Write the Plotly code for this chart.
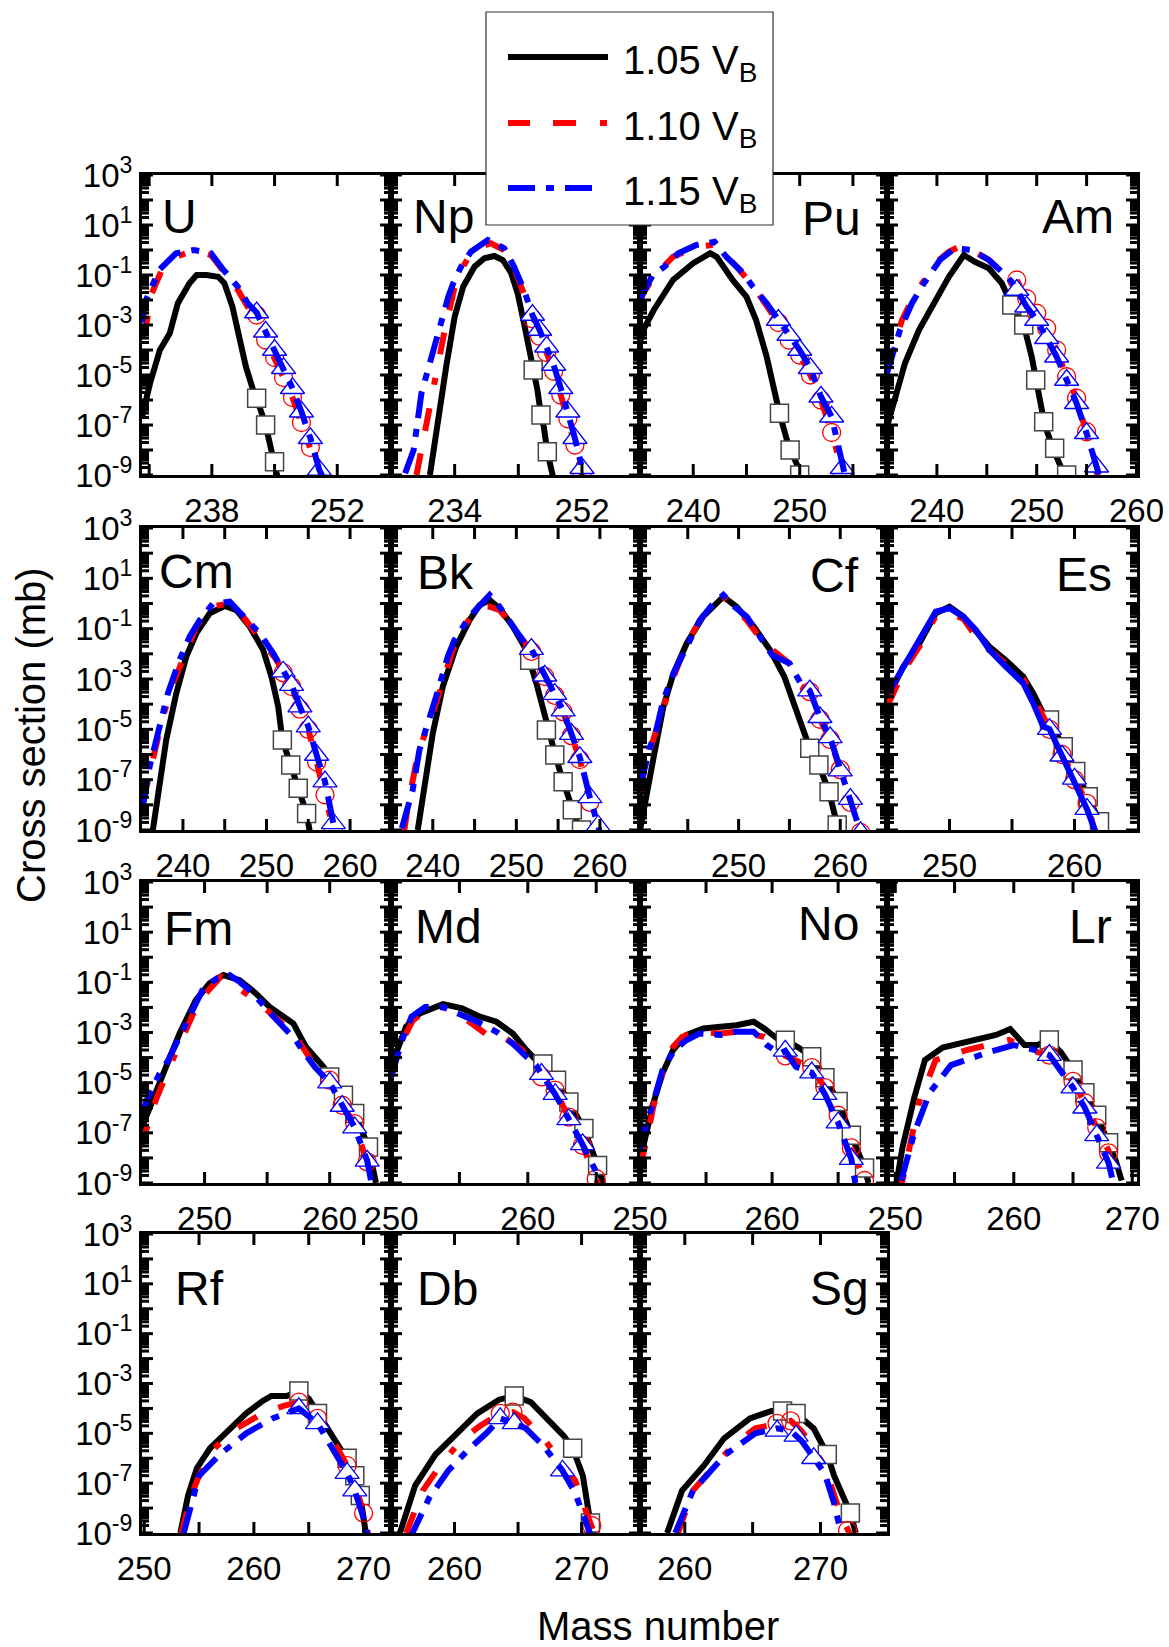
import math
import plotly.graph_objects as go

# Cross sections are stored as log10(sigma / mb); masses are mass numbers.
# Suffixes: 105 -> 1.05 V_B (black), 110 -> 1.10 V_B (red), 115 -> 1.15 V_B (blue)
# sq / ci / tr -> square / circle / triangle symbols of the same three series.

# ---------------- U ----------------
U_x105 = [230.2, 231.1, 232.2, 233.3, 234.2, 235.5, 236.3, 237.4, 238.7, 239.4, 240.3, 241.1, 241.8, 242.6, 243.0, 244.0, 245.0, 245.4]
U_y105 = [-6.67, -5.33, -4.0, -3.33, -2.13, -1.33, -1.0, -1.0, -1.07, -1.33, -2.27, -3.47, -4.67, -5.6, -5.93, -7.0, -8.47, -9.2]
U_x110 = [230.2, 230.7, 231.3, 232.4, 234.1, 236.0, 237.9, 239.8, 240.9, 242.0, 243, 244, 245, 246, 247, 248, 249, 250, 250.5]
U_y110 = [-3.47, -2.93, -1.73, -0.8, -0.27, 0.0, -0.2, -1.07, -1.6, -2.27, -2.6, -3.6, -4.3, -5.1, -5.9, -6.9, -7.9, -9.0, -9.5]
U_x115 = [230.2, 230.5, 232.1, 234.0, 236.0, 237.9, 239.3, 240.9, 242.0, 243, 244, 245, 246, 247, 248, 249, 250, 250.4]
U_y115 = [-2.9, -2.13, -0.8, -0.13, 0.0, -0.13, -0.8, -1.47, -2.13, -2.5, -3.27, -4.0, -4.73, -5.53, -6.47, -7.53, -8.8, -9.1]
U_sqx = [243, 244, 245]
U_sqy = [-5.93, -7.0, -8.47]
U_cix = [243, 244, 245, 246, 247, 248, 249, 250]
U_ciy = [-2.6, -3.6, -4.3, -5.1, -5.9, -6.9, -7.9, -9.0]
U_trx = [243, 244, 245, 246, 247, 248, 249, 250]
U_try = [-2.5, -3.27, -4.0, -4.73, -5.53, -6.47, -7.53, -8.8]

# ---------------- Np ----------------
Np_x105 = [230.5, 231.7, 232.8, 234.0, 235.2, 236.8, 238.2, 239.6, 240.8, 242.0, 242.9, 243.8, 244.8, 245.1, 245.7, 246.2, 246.6, 247.1, 247.6, 247.9]
Np_y105 = [-9.0, -6.67, -4.67, -2.67, -1.47, -0.67, -0.33, -0.24, -0.4, -0.93, -1.73, -2.93, -4.27, -4.8, -5.6, -6.6, -7.07, -8.07, -8.67, -9.07]
Np_x110 = [228.6, 229.0, 230.3, 231.2, 232.6, 234.0, 234.9, 236.3, 237.7, 239.1, 241.0, 242.4, 243.6, 244.8, 245, 246, 247, 248, 249, 250, 251, 252, 252.5]
Np_y110 = [-9.0, -8.4, -6.4, -5.07, -3.2, -1.47, -0.8, -0.13, 0.13, 0.27, 0.0, -0.73, -1.6, -2.53, -2.75, -3.45, -4.1, -4.85, -5.8, -6.75, -7.8, -9.0, -9.5]
Np_x115 = [227.0, 228.2, 229.3, 230.7, 231.7, 233.1, 233.8, 234.9, 236.3, 238.7, 241.0, 242.4, 243.8, 245, 246, 247, 248, 249, 250, 251, 252, 252.3]
Np_y115 = [-8.93, -8.0, -5.73, -4.27, -3.2, -1.87, -1.33, -0.67, -0.07, 0.4, 0.07, -0.67, -1.6, -2.6, -3.2, -3.87, -4.6, -5.53, -6.47, -7.53, -8.73, -9.1]
Np_sqx = [245.1, 246.2, 247.1]
Np_sqy = [-4.8, -6.6, -8.07]
Np_cix = [245, 246, 247, 248, 249, 250, 251, 252]
Np_ciy = [-2.75, -3.45, -4.1, -4.85, -5.8, -6.75, -7.8, -9.0]
Np_trx = [245, 246, 247, 248, 249, 250, 251, 252]
Np_try = [-2.6, -3.2, -3.87, -4.6, -5.53, -6.47, -7.53, -8.73]

# ---------------- Pu ----------------
Pu_x105 = [234.8, 235.3, 236.3, 238.1, 240.0, 241.6, 242.2, 243.7, 245.0, 245.9, 246.9, 247.8, 248.1, 248.8, 249.1, 249.7, 250.0, 250.2]
Pu_y105 = [-4.0, -3.2, -2.4, -1.2, -0.53, -0.13, -0.27, -1.2, -1.87, -2.8, -4.27, -6.13, -6.53, -7.6, -8.0, -8.53, -9.0, -9.3]
Pu_x110 = [235.0, 235.3, 236.3, 238.1, 240.3, 241.9, 242.5, 244.1, 245.9, 247.2, 248, 249, 250, 251, 252, 253, 254, 254.5]
Pu_y110 = [-2.1, -1.73, -1.07, -0.27, 0.13, 0.2, 0.0, -0.67, -1.6, -2.4, -2.9, -3.6, -4.2, -5.0, -6.0, -7.3, -9.0, -9.6]
Pu_x115 = [235.0, 235.1, 236.2, 237.3, 238.6, 240.3, 242.0, 243.1, 244.7, 245.6, 246.9, 247.8, 248, 249, 250, 251, 252, 253, 253.6, 254, 254.3]
Pu_y115 = [-2.0, -1.87, -1.0, -0.67, -0.13, 0.2, 0.33, -0.27, -0.93, -1.47, -2.13, -2.67, -2.8, -3.4, -4.0, -4.73, -5.87, -6.67, -7.8, -8.73, -9.1]
Pu_sqx = [248.1, 249.1, 250.0]
Pu_sqy = [-6.53, -8.0, -9.0]
Pu_cix = [248, 249, 250, 251, 252, 253, 254]
Pu_ciy = [-2.9, -3.6, -4.2, -5.0, -6.0, -7.3, -9.0]
Pu_trx = [248, 249, 250, 251, 252, 253, 254]
Pu_try = [-2.8, -3.4, -4.0, -4.73, -5.87, -6.67, -8.73]

# ---------------- Am ----------------
Am_x105 = [235.0, 235.8, 236.8, 238.2, 239.8, 241.2, 242.7, 243.8, 245.2, 246.5, 247.5, 248.7, 249.5, 250.2, 250.8, 251.8, 252.7, 253.2]
Am_y105 = [-7.07, -5.87, -4.53, -3.2, -2.0, -1.07, -0.2, -0.47, -0.73, -1.33, -2.2, -3.0, -4.27, -5.73, -7.0, -8.1, -9.0, -9.4]
Am_x110 = [235.0, 235.5, 236.5, 237.5, 238.5, 239.8, 241.2, 242.2, 243.5, 245.2, 246.5, 248, 249, 250, 251, 252, 253, 254, 255, 255.6, 256.2]
Am_y110 = [-4.8, -4.13, -2.8, -2.0, -1.33, -0.53, -0.07, 0.13, 0.0, -0.4, -0.87, -1.2, -1.95, -2.53, -3.13, -4.0, -5.07, -5.93, -7.27, -8.2, -9.2]
Am_x115 = [235.0, 236.3, 237.5, 238.7, 240.3, 241.8, 243.5, 245.2, 246.5, 247.5, 248, 249, 250, 251, 252, 253, 254, 255, 256, 256.4]
Am_y115 = [-4.93, -3.2, -2.13, -1.33, -0.4, 0.07, 0.0, -0.4, -0.87, -1.27, -1.6, -2.27, -2.8, -3.53, -4.27, -5.2, -6.13, -7.33, -8.67, -9.2]
Am_sqx = [247.5, 248.7, 249.9, 250.7, 251.8, 253.0]
Am_sqy = [-2.2, -3.0, -5.2, -6.87, -7.93, -9.0]
Am_cix = [248, 249, 250, 251, 252, 253, 254, 255]
Am_ciy = [-1.2, -1.95, -2.53, -3.13, -4.0, -5.07, -5.93, -7.27]
Am_trx = [248, 249, 250, 251, 252, 253, 254, 255, 256]
Am_try = [-1.6, -2.27, -2.8, -3.53, -4.27, -5.2, -6.13, -7.33, -8.67]

# ---------------- Cm ----------------
Cm_x105 = [236.4, 237.2, 238.0, 239.2, 240.4, 241.6, 243.2, 245.0, 246.4, 248.0, 249.6, 250.6, 251.4, 251.9, 252.9, 253.8, 254.8, 255.2]
Cm_y105 = [-9.0, -7.15, -5.42, -3.57, -2.11, -1.19, -0.39, -0.1, -0.26, -0.92, -1.85, -2.91, -4.1, -5.42, -6.42, -7.34, -8.34, -9.1]
Cm_x110 = [235.2, 236.4, 237.6, 238.8, 240.0, 241.6, 243.2, 245.6, 247.2, 248.8, 250.4, 251.2, 252, 253, 254, 255, 256, 257, 258, 258.4]
Cm_y110 = [-7.9, -6.1, -4.5, -3.2, -2.24, -0.92, -0.13, 0.0, -0.52, -1.19, -1.85, -2.24, -2.75, -3.3, -4.2, -5.0, -6.3, -7.6, -9.0, -9.5]
Cm_x115 = [235.2, 236.0, 237.2, 238.2, 239.6, 240.8, 242.0, 243.6, 245.6, 247.6, 249.2, 250.8, 252, 253, 254, 255, 256, 257, 258, 258.3]
Cm_y115 = [-8.07, -6.5, -4.9, -3.57, -2.24, -1.32, -0.66, 0.0, 0.07, -0.59, -1.19, -1.98, -2.71, -3.24, -4.1, -4.89, -6.02, -7.08, -8.74, -9.2]
Cm_sqx = [251.9, 252.9, 253.8, 254.8]
Cm_sqy = [-5.42, -6.42, -7.34, -8.34]
Cm_cix = [252, 253, 254, 255, 256, 257, 258]
Cm_ciy = [-2.75, -3.3, -4.2, -5.0, -6.3, -7.6, -9.0]
Cm_trx = [252, 253, 254, 255, 256, 257, 258]
Cm_try = [-2.71, -3.24, -4.1, -4.89, -6.02, -7.08, -8.74]

# ---------------- Bk ----------------
Bk_x105 = [238.2, 239.0, 240.0, 241.2, 242.8, 244.4, 245.6, 246.8, 248.0, 249.6, 251.2, 252.4, 253.4, 254.4, 255.4, 256.4, 257.6, 258.0]
Bk_y105 = [-9.0, -7.15, -5.16, -3.3, -1.72, -0.66, -0.06, 0.14, -0.19, -0.92, -1.85, -3.17, -4.5, -5.69, -6.88, -7.81, -9.0, -9.4]
Bk_x110 = [236.6, 237.0, 238.0, 238.8, 240.0, 241.2, 242.4, 244.0, 245.6, 246.8, 248.0, 249.6, 251.2, 251.8, 253.4, 254.6, 255.6, 256.6, 257.6, 258.8, 259.8, 260.2]
Bk_y110 = [-9.0, -8.07, -6.35, -5.42, -4.36, -3.04, -1.85, -0.79, -0.13, -0.13, -0.26, -0.92, -1.58, -1.9, -2.9, -3.65, -4.3, -5.25, -6.2, -7.9, -8.9, -9.4]
Bk_x115 = [236.3, 237.0, 237.6, 238.4, 240.0, 240.4, 241.8, 242.6, 244.4, 245.6, 246.8, 248.0, 249.6, 251.0, 251.8, 253.4, 254.6, 255.6, 256.6, 257.6, 258.8, 259.8, 260.1]
Bk_y115 = [-8.93, -8.2, -7.4, -5.82, -4.23, -3.7, -2.11, -1.45, -0.52, -0.06, 0.34, -0.13, -0.92, -1.58, -1.81, -2.87, -3.6, -4.26, -5.19, -6.11, -7.7, -8.83, -9.2]
Bk_sqx = [251.6, 253.6, 254.6, 255.6, 256.7, 257.8]
Bk_sqy = [-2.25, -5.03, -6.02, -7.08, -8.2, -9.0]
Bk_cix = [251.8, 253.4, 254.6, 255.6, 256.6, 257.6, 258.8]
Bk_ciy = [-1.9, -2.9, -3.65, -4.3, -5.25, -6.2, -7.9]
Bk_trx = [251.8, 253.4, 254.6, 255.6, 256.6, 257.6, 258.8, 259.8]
Bk_try = [-1.81, -2.87, -3.6, -4.26, -5.19, -6.11, -7.7, -8.83]

# ---------------- Cf ----------------
Cf_x105 = [240.3, 240.8, 241.6, 242.6, 243.6, 244.9, 246.5, 248.5, 249.8, 251.5, 253.1, 254.5, 255.4, 256.4, 257.0, 257.9, 258.9, 259.7, 260.0]
Cf_y105 = [-9.0, -7.8, -6.2, -4.1, -2.77, -1.58, -0.52, 0.27, -0.13, -0.92, -1.85, -2.91, -3.97, -5.16, -5.75, -6.42, -7.48, -8.8, -9.3]
Cf_x110 = [240.3, 240.9, 241.6, 242.6, 243.6, 244.9, 246.2, 247.5, 248.5, 249.5, 250.8, 252.5, 255.0, 256.1, 257, 258, 259, 260, 261, 262, 262.3]
Cf_y110 = [-7.54, -6.22, -5.42, -4.23, -2.91, -1.58, -0.66, 0.0, 0.27, -0.13, -0.66, -1.58, -2.38, -3.3, -3.5, -4.6, -5.4, -6.6, -7.9, -9.1, -9.5]
Cf_x115 = [240.3, 240.8, 241.3, 241.9, 242.6, 243.6, 244.9, 246.2, 247.5, 248.5, 249.6, 250.8, 252.1, 253.3, 255.0, 256.1, 257, 258, 259, 260, 261, 262]
Cf_y115 = [-7.28, -6.48, -5.69, -5.03, -3.83, -2.77, -1.72, -0.66, 0.0, 0.34, -0.13, -0.52, -1.32, -2.05, -2.38, -3.17, -3.46, -4.52, -5.32, -6.64, -7.77, -9.09]
Cf_sqx = [257.0, 257.9, 258.9, 259.7]
Cf_sqy = [-5.75, -6.42, -7.48, -8.8]
Cf_cix = [257, 258, 259, 260, 261, 262]
Cf_ciy = [-3.5, -4.6, -5.4, -6.6, -7.9, -9.1]
Cf_trx = [257, 258, 259, 260, 261, 262]
Cf_try = [-3.46, -4.52, -5.32, -6.64, -7.77, -9.09]

# ---------------- Es ----------------
Es_x105 = [245.1, 245.5, 246.3, 247.6, 248.9, 250.0, 251.1, 252.1, 253.2, 254.5, 255.9, 256.7, 257.5, 258, 259.1, 260.1, 261.1, 262, 262.2]
Es_y105 = [-3.83, -3.3, -2.51, -1.58, -0.39, -0.13, -0.52, -1.05, -1.72, -2.25, -2.91, -3.57, -4.36, -4.63, -5.69, -6.68, -7.68, -8.67, -9.1]
Es_x110 = [245.1, 246.3, 247.6, 248.9, 250.0, 251.1, 252.7, 253.2, 254.5, 255.9, 256.7, 257.5, 258, 259, 260, 261, 261.6]
Es_y110 = [-4.0, -2.7, -1.7, -0.5, -0.39, -0.6, -1.72, -1.85, -2.4, -3.0, -3.7, -4.5, -5.0, -6.0, -7.0, -7.94, -9.0]
Es_x115 = [245.1, 246.3, 247.6, 248.9, 250.0, 251.1, 252.1, 253.2, 254.5, 255.9, 256.7, 257.5, 258, 259, 260, 261, 261.7]
Es_y115 = [-3.57, -2.51, -1.45, -0.32, -0.19, -0.52, -1.05, -1.85, -2.51, -3.17, -3.97, -4.89, -4.99, -6.05, -6.97, -8.17, -9.1]
Es_sqx = [258, 259.1, 260.1, 261.1, 262]
Es_sqy = [-4.63, -5.69, -6.68, -7.68, -8.67]
Es_cix = [258, 259, 260, 261]
Es_ciy = [-5.0, -6.0, -7.0, -7.94]
Es_trx = [258, 259, 260, 261]
Es_try = [-4.99, -6.05, -6.97, -8.17]

# ---------------- Fm ----------------
Fm_x105 = [244.9, 245.6, 246.7, 248.0, 249.3, 250.4, 251.5, 252.8, 254.1, 255.2, 256.0, 257.1, 258.1, 259.5, 260.0, 261.1, 262.0, 263.1, 263.7]
Fm_y105 = [-6.9, -5.97, -4.64, -3.04, -1.71, -1.04, -0.71, -0.91, -1.44, -1.98, -2.24, -2.64, -3.57, -4.37, -4.77, -5.5, -6.23, -7.56, -9.0]
Fm_x110 = [244.9, 246.1, 247.2, 249.1, 250.1, 251.3, 252.7, 254.1, 255.3, 257.1, 258.0, 259.2, 260, 261, 262, 263, 263.5]
Fm_y110 = [-7.56, -5.7, -4.37, -2.24, -1.44, -0.78, -1.24, -1.71, -2.24, -3.04, -3.7, -4.64, -4.9, -5.9, -6.63, -8.16, -9.0]
Fm_x115 = [244.9, 245.5, 246.4, 247.1, 248.0, 249.1, 249.9, 251.0, 252.0, 252.8, 253.9, 254.9, 256.1, 257.3, 257.9, 258.8, 260, 261, 262, 263, 263.3]
Fm_y115 = [-6.3, -5.57, -4.64, -4.1, -3.17, -1.98, -1.24, -0.84, -0.71, -0.98, -1.44, -2.04, -2.64, -3.31, -3.77, -4.37, -5.0, -5.93, -6.79, -8.12, -8.9]
Fm_sqx = [260, 261.1, 262, 263.1]
Fm_sqy = [-4.77, -5.5, -6.23, -7.56]
Fm_cix = [260, 261, 262, 263]
Fm_ciy = [-4.9, -5.9, -6.63, -8.16]
Fm_trx = [260, 261, 262, 263]
Fm_try = [-5.0, -5.93, -6.79, -8.12]

# ---------------- Md ----------------
Md_x105 = [250.0, 250.5, 251.1, 252.1, 253.8, 255.2, 256.5, 257.7, 258.9, 259.9, 260.6, 261.1, 262.1, 263.0, 264.1, 265.1, 265.6]
Md_y105 = [-4.37, -3.57, -2.77, -2.24, -1.87, -2.04, -2.37, -2.57, -3.04, -3.7, -4.1, -4.26, -4.9, -5.77, -6.83, -8.3, -9.2]
Md_x110 = [250.0, 250.6, 251.6, 252.6, 253.8, 255.2, 256.9, 257.9, 259.6, 260.3, 261, 262, 263, 264, 265, 265.3]
Md_y110 = [-4.77, -3.57, -2.51, -2.11, -1.98, -2.37, -3.04, -3.04, -3.7, -4.24, -4.77, -5.3, -6.37, -7.5, -8.83, -9.3]
Md_x115 = [250.0, 250.4, 250.9, 251.5, 252.5, 253.8, 255.2, 256.3, 257.7, 258.9, 259.9, 260.6, 261, 262, 263, 264, 265.3]
Md_y115 = [-4.77, -3.97, -3.17, -2.37, -1.98, -1.98, -2.31, -2.57, -2.97, -3.44, -3.97, -4.3, -4.66, -5.46, -6.46, -7.46, -8.9]
Md_sqx = [261.1, 262.1, 263.0, 264.1, 265.1]
Md_sqy = [-4.26, -4.9, -5.77, -6.83, -8.3]
Md_cix = [261, 262, 263, 264, 265]
Md_ciy = [-4.77, -5.3, -6.37, -7.5, -8.83]
Md_trx = [261, 262, 263, 264]
Md_try = [-4.66, -5.46, -6.46, -7.46]

# ---------------- No ----------------
No_x105 = [250.0, 250.5, 251.0, 251.7, 252.5, 253.5, 254.8, 256.1, 257.3, 258.6, 259.4, 260.4, 261, 262, 263, 264, 265, 266, 267, 267.3]
No_y105 = [-8.1, -7.03, -5.83, -4.64, -3.7, -3.1, -2.84, -2.77, -2.71, -2.57, -2.84, -3.25, -3.31, -3.6, -3.97, -4.8, -5.75, -7.1, -8.4, -9.0]
No_x110 = [250.0, 250.5, 251.0, 251.7, 252.5, 253.2, 254.3, 256.1, 257.3, 259.4, 260.4, 261, 263, 264, 265, 266, 267, 267.4]
No_y110 = [-8.36, -7.3, -5.97, -4.64, -3.57, -3.17, -2.97, -3.04, -2.97, -3.17, -3.57, -3.93, -4.4, -5.2, -6.3, -7.6, -8.9, -9.4]
No_x115 = [250.0, 250.4, 250.9, 251.7, 252.6, 253.5, 254.5, 256.1, 257.3, 258.6, 259.6, 260.6, 261, 261.8, 263, 264, 265, 266, 266.3]
No_y115 = [-7.7, -6.76, -5.97, -4.5, -3.7, -3.31, -3.04, -3.1, -2.97, -2.97, -3.5, -3.84, -3.73, -4.37, -4.6, -5.46, -6.59, -8.05, -9.0]
No_sqx = [261, 263, 264, 265, 266, 267]
No_sqy = [-3.31, -3.97, -4.8, -5.75, -7.1, -8.4]
No_cix = [261, 263, 264, 265, 266, 267]
No_ciy = [-3.93, -4.4, -5.2, -6.3, -7.6, -8.9]
No_trx = [261, 263, 264, 265, 266]
No_try = [-3.73, -4.6, -5.46, -6.59, -8.05]

# ---------------- Lr ----------------
Lr_x105 = [250.0, 250.6, 251.6, 252.5, 254.0, 256.9, 258.5, 259.7, 260.9, 262.0, 263.0, 264.0, 265.0, 266.0, 267.0, 268.0, 268.6, 269.1]
Lr_y105 = [-9.3, -7.6, -5.6, -4.1, -3.6, -3.3, -3.1, -2.86, -3.5, -3.5, -3.3, -3.8, -4.5, -5.4, -6.3, -7.4, -8.1, -8.9]
Lr_x110 = [250.3, 250.7, 252.0, 253.4, 256.0, 259.6, 261.3, 263, 265, 266, 267, 268, 268.5]
Lr_y110 = [-9.5, -8.7, -5.8, -4.1, -3.7, -3.3, -3.7, -3.9, -4.95, -5.8, -6.8, -7.7, -9.0]
Lr_x115 = [250.5, 251.6, 252.9, 254.7, 257.8, 260.0, 261.8, 263, 265, 266, 267, 268, 268.4]
Lr_y115 = [-8.9, -7.0, -5.4, -4.3, -3.8, -3.5, -3.7, -3.9, -5.2, -6.0, -7.1, -8.2, -9.0]
Lr_sqx = [263, 265, 266, 267, 268]
Lr_sqy = [-3.3, -4.5, -5.4, -6.3, -7.4]
Lr_cix = [263, 265, 266, 267, 268]
Lr_ciy = [-3.9, -4.95, -5.8, -6.8, -7.8]
Lr_trx = [263, 265, 266, 267, 268]
Lr_try = [-3.9, -5.2, -6.0, -7.1, -8.2]

# ---------------- Rf ----------------
Rf_x105 = [253.3, 254.0, 254.8, 256.0, 257.4, 259.3, 260.8, 261.6, 263.0, 264.1, 265.0, 265.8, 267.0, 268.0, 268.5, 269.2, 269.7, 270.2]
Rf_y105 = [-9.0, -7.5, -6.4, -5.6, -5.0, -4.2, -3.7, -3.5, -3.5, -3.3, -3.6, -4.2, -5.0, -5.7, -6.0, -6.7, -7.5, -9.0]
Rf_x110 = [253.4, 254.2, 255.0, 256.4, 258.4, 260.8, 262.7, 264.1, 265.8, 267.0, 268.5, 269.2, 270.0, 270.5]
Rf_y110 = [-9.0, -7.6, -6.7, -5.6, -4.8, -4.2, -3.9, -3.75, -4.4, -5.1, -6.3, -7.0, -8.2, -9.2]
Rf_x115 = [253.6, 254.4, 255.0, 256.9, 259.3, 261.7, 264.1, 265.8, 268.5, 269.2, 270.0, 270.4]
Rf_y115 = [-9.0, -7.6, -6.7, -5.85, -5.0, -4.4, -4.0, -4.6, -6.6, -7.3, -8.4, -9.2]
Rf_sqx = [264.1, 265.8, 268.5, 269.2, 269.7]
Rf_sqy = [-3.3, -4.2, -6.0, -6.7, -7.5]
Rf_cix = [264.1, 265.8, 268.5, 270.0]
Rf_ciy = [-3.75, -4.4, -6.3, -8.2]
Rf_trx = [264.1, 265.8, 268.5, 269.2]
Rf_try = [-4.0, -4.6, -6.6, -7.3]

# ---------------- Db ----------------
Db_x105 = [255.7, 256.9, 258.5, 260.2, 261.8, 263.5, 264.7, 266.0, 267.6, 268.6, 269.3, 270.1, 270.7, 271.0]
Db_y105 = [-9.0, -7.1, -5.85, -5.0, -4.2, -3.65, -3.5, -3.75, -4.6, -5.1, -5.6, -6.7, -8.6, -9.2]
Db_x110 = [256.2, 257.5, 259.0, 260.5, 262.0, 263.6, 264.6, 265.5, 267.0, 268.5, 269.5, 270.4, 270.8, 271.2]
Db_y110 = [-9.0, -7.3, -6.2, -5.3, -4.7, -4.2, -4.15, -4.4, -5.2, -6.2, -6.9, -8.2, -8.7, -9.3]
Db_x115 = [256.5, 258.0, 259.5, 261.0, 262.5, 263.6, 264.7, 265.6, 267.0, 268.5, 269.5, 270.3, 270.8]
Db_y115 = [-9.2, -7.6, -6.5, -5.7, -5.0, -4.4, -4.6, -4.8, -5.5, -6.5, -7.4, -8.5, -9.2]
Db_sqx = [264.7, 269.3, 270.7]
Db_sqy = [-3.5, -5.6, -8.6]
Db_cix = [263.6, 264.6, 270.8]
Db_ciy = [-4.2, -4.15, -8.7]
Db_trx = [263.6, 264.7, 268.5]
Db_try = [-4.4, -4.6, -6.5]

# ---------------- Sg ----------------
Sg_x105 = [258.7, 259.8, 261.4, 262.9, 264.8, 266.4, 267.2, 268.2, 269.5, 270.5, 271.0, 272.2, 272.6]
Sg_y105 = [-9.0, -7.3, -6.3, -5.2, -4.4, -4.1, -4.1, -4.2, -4.8, -5.85, -6.7, -8.2, -9.0]
Sg_x110 = [259.5, 260.6, 262.2, 263.7, 265.2, 266.8, 267.8, 268.6, 270.3, 271.5, 272.0, 272.5]
Sg_y110 = [-9.0, -7.3, -6.3, -5.4, -4.8, -4.6, -4.5, -4.9, -6.3, -8.3, -8.9, -9.4]
Sg_x115 = [259.3, 260.6, 263.0, 265.2, 266.8, 267.8, 268.6, 269.5, 270.3, 271.0, 271.6]
Sg_y115 = [-9.0, -7.3, -5.85, -5.0, -4.8, -4.9, -5.3, -6.0, -6.6, -7.8, -9.2]
Sg_sqx = [267.2, 268.2, 270.5, 272.2]
Sg_sqy = [-4.1, -4.2, -5.85, -8.2]
Sg_cix = [266.8, 267.8, 272.0]
Sg_ciy = [-4.6, -4.5, -8.9]
Sg_trx = [266.8, 268.2, 269.5]
Sg_try = [-4.9, -5.1, -6.0]

# x-axis ranges and ticks of each panel
X_RANGES = {
    "U": [230.2, 258.0], "Np": [225.0, 260.2], "Pu": [235.0, 258.2], "Am": [235.0, 260.05],
    "Cm": [235.1, 264.9], "Bk": [235.0, 264.8], "Cf": [240.3, 264.6], "Es": [245.0, 265.0],
    "Fm": [245.0, 264.9], "Md": [250.0, 268.2], "No": [250.0, 268.7], "Lr": [249.3, 270.4],
    "Rf": [249.8, 272.5], "Db": [255.0, 274.6], "Sg": [256.7, 274.9],
}
X_TICKS = {
    "U": ([231, 238, 245, 252], ["", "238", "", "252"]),
    "Np": ([225, 234, 243, 252], ["", "234", "", "252"]),
    "Pu": ([235, 240, 245, 250, 255], ["", "240", "", "250", ""]),
    "Am": ([240, 245, 250, 255, 260], ["240", "", "250", "", "260"]),
    "Cm": ([240, 245, 250, 255, 260], ["240", "", "250", "", "260"]),
    "Bk": ([240, 245, 250, 255, 260], ["240", "", "250", "", "260"]),
    "Cf": ([245, 250, 255, 260], ["", "250", "", "260"]),
    "Es": ([250, 255, 260], ["250", "", "260"]),
    "Fm": ([250, 255, 260], ["250", "", "260"]),
    "Md": ([250, 255, 260, 265], ["250", "", "260", ""]),
    "No": ([250, 255, 260, 265], ["250", "", "260", ""]),
    "Lr": ([250, 255, 260, 265, 270], ["250", "", "260", "", "270"]),
    "Rf": ([250, 255, 260, 265, 270], ["250", "", "260", "", "270"]),
    "Db": ([260, 265, 270], ["260", "", "270"]),
    "Sg": ([260, 265, 270], ["260", "", "270"]),
}

# log scale of the cross-section axis
Y_LO, Y_HI = -9, 3
Y_EXP = list(range(Y_LO, Y_HI + 1))
Y_LABELED = [-9, -7, -5, -3, -1, 1, 3]
Y_SUB = [2, 3, 4, 5, 6, 7, 8, 9]

W, H = 1169, 1647
COLS = [(142, 391), (391, 640), (640, 887), (887, 1137)]
ROWS = [(175, 475), (528, 830), (882, 1183), (1234, 1533)]
FONT = "Liberation Sans, Arial, Helvetica, sans-serif"

RED_DASH = "22px,23px,23px,24px,7px,24px"
BLUE_DASH = "27px,11px,8px,11px"

MAJOR_LEN, MINOR_LEN, TICK_W = 11, 7, 3

# element, row, col, label side, label x(px), label y(px)
PANELS = [
    ("U", 0, 0, "left", 160, 216), ("Np", 0, 1, "left", 411, 217),
    ("Pu", 0, 2, "right", 863, 219), ("Am", 0, 3, "right", 1116, 216),
    ("Cm", 1, 0, "left", 157, 571), ("Bk", 1, 1, "left", 415, 572),
    ("Cf", 1, 2, "right", 861, 575), ("Es", 1, 3, "right", 1114, 574),
    ("Fm", 2, 0, "left", 162, 929), ("Md", 2, 1, "left", 413, 926),
    ("No", 2, 2, "right", 861, 923), ("Lr", 2, 3, "right", 1114, 927),
    ("Rf", 3, 0, "left", 173, 1288), ("Db", 3, 1, "left", 415, 1288),
    ("Sg", 3, 2, "right", 871, 1288),
]

SERIES = {name: {k: globals()[f"{name}_{k}"] for k in
                 ("x105", "y105", "x110", "y110", "x115", "y115",
                  "sqx", "sqy", "cix", "ciy", "trx", "try")}
          for name, *_ in PANELS}


def sig(lg):
    return [10 ** v for v in lg]


def axis_ids(i):
    return ("x", "y") if i == 1 else (f"x{i}", f"y{i}")


def frame_ticks(i, name, wpx, hpx):
    """Inward tick marks on all four sides of panel i (drawn in axis-domain units)."""
    xid, yid = axis_ids(i)
    out = []
    tick_line = dict(color="black", width=TICK_W)
    for e in Y_EXP:
        for k in [1] + (Y_SUB if e < Y_HI else []):
            f = (math.log10(k) + e - Y_LO) / (Y_HI - Y_LO)
            ln = (MAJOR_LEN if k == 1 else MINOR_LEN) / wpx
            for xa0, xa1 in ((0, ln), (1, 1 - ln)):
                out.append(dict(type="line", layer="above", xref=f"{xid} domain",
                                yref=f"{yid} domain", x0=xa0, x1=xa1, y0=f, y1=f,
                                line=tick_line))
    lo, hi = X_RANGES[name]
    ln = MAJOR_LEN / hpx
    for t in X_TICKS[name][0]:
        if lo < t < hi:
            for ya0, ya1 in ((0, ln), (1, 1 - ln)):
                out.append(dict(type="line", layer="above", xref=xid,
                                yref=f"{yid} domain", x0=t, x1=t, y0=ya0, y1=ya1,
                                line=tick_line))
    return out


fig = go.Figure()
layout = {}
annotations = []
shapes = []

y_vals = [10.0 ** e for e in Y_EXP]
y_text = [(f"10<sup>{e}</sup>" if e in Y_LABELED else " ") for e in Y_EXP]

for i, (name, r, c, side, lx, ly) in enumerate(PANELS, start=1):
    d = SERIES[name]
    xa, ya = axis_ids(i)
    common = dict(xaxis=xa, yaxis=ya, showlegend=False, hoverinfo="skip")
    fig.add_trace(go.Scatter(x=d["x105"], y=sig(d["y105"]), mode="lines",
                             line=dict(color="black", width=6), **common))
    fig.add_trace(go.Scatter(x=d["sqx"], y=sig(d["sqy"]), mode="markers",
                             marker=dict(symbol="square", size=18, color="white",
                                         line=dict(color="#444444", width=1.5)), **common))
    fig.add_trace(go.Scatter(x=d["x110"], y=sig(d["y110"]), mode="lines",
                             line=dict(color="#ff0000", width=6, dash=RED_DASH), **common))
    fig.add_trace(go.Scatter(x=d["cix"], y=sig(d["ciy"]), mode="markers",
                             marker=dict(symbol="circle-open", size=18, color="#ff0000",
                                         line=dict(width=1.3)), **common))
    fig.add_trace(go.Scatter(x=d["trx"], y=sig(d["try"]), mode="markers",
                             marker=dict(symbol="triangle-up", size=21, color="white",
                                         line=dict(color="#0000ff", width=1.3)), **common))
    fig.add_trace(go.Scatter(x=d["x115"], y=sig(d["y115"]), mode="lines",
                             line=dict(color="#0000ff", width=6,
                                       dash="solid" if name == "Es" else BLUE_DASH), **common))

    x0, x1 = COLS[c]
    y0, y1 = ROWS[r]
    tv, tt = X_TICKS[name]
    layout[f"xaxis{i}"] = dict(
        domain=[x0 / W, x1 / W], anchor=ya, range=X_RANGES[name],
        tickmode="array", tickvals=tv, ticktext=[t if t else " " for t in tt], tickangle=0,
        ticks="", showline=True, linewidth=3, linecolor="#000000", mirror=True,
        showgrid=False, zeroline=False, automargin=False,
        tickfont=dict(family=FONT, size=33, color="black"),
        ticklabelstandoff=4,
    )
    layout[f"yaxis{i}"] = dict(
        domain=[1 - y1 / H, 1 - y0 / H], anchor=xa, type="log", range=[Y_LO, Y_HI],
        tickmode="array", tickvals=y_vals, ticktext=y_text,
        showticklabels=(c == 0), ticks="",
        showline=True, linewidth=3, linecolor="#000000", mirror=True,
        showgrid=False, zeroline=False, automargin=False,
        tickfont=dict(family=FONT, size=33, color="black"),
    )
    shapes.extend(frame_ticks(i, name, x1 - x0, y1 - y0))
    annotations.append(dict(
        text=name, xref="paper", yref="paper", x=lx / W, y=1 - ly / H,
        xanchor=side, yanchor="middle", showarrow=False,
        font=dict(family=FONT, size=48, color="black"),
    ))

# axis titles
annotations.append(dict(text="Cross section (mb)", xref="paper", yref="paper",
                        x=31 / W, y=1 - 735 / H, textangle=-90, showarrow=False,
                        xanchor="center", yanchor="middle",
                        font=dict(family=FONT, size=40, color="black")))
annotations.append(dict(text="Mass number", xref="paper", yref="paper",
                        x=658 / W, y=1 - 1626 / H, showarrow=False,
                        xanchor="center", yanchor="middle",
                        font=dict(family=FONT, size=40, color="black")))

# legend box drawn by hand (after the tick marks so it sits on top of them)
LEG_LABELS = ["1.05 V<sub>B</sub>", "1.10 V<sub>B</sub>", "1.15 V<sub>B</sub>"]
LEG_STYLE = [("black", "solid", 608), ("#ff0000", RED_DASH, 609), ("#0000ff", BLUE_DASH, 593)]
LEG_Y = [57, 123, 188]

shapes.append(dict(type="rect", xref="paper", yref="paper", layer="above",
                   x0=486 / W, x1=773 / W, y0=1 - 225 / H, y1=1 - 12 / H,
                   fillcolor="white", line=dict(color="#333333", width=1.2)))
for (col, dash, xend), yy, lab in zip(LEG_STYLE, LEG_Y, LEG_LABELS):
    shapes.append(dict(type="line", xref="paper", yref="paper", layer="above",
                       x0=508 / W, x1=xend / W, y0=1 - yy / H, y1=1 - yy / H,
                       line=dict(color=col, width=6, dash=dash)))
    annotations.append(dict(text=lab, xref="paper", yref="paper",
                            x=621 / W, y=1 - (yy + 6) / H, xanchor="left", yanchor="middle",
                            showarrow=False, font=dict(family=FONT, size=40, color="black")))

fig.update_layout(
    width=W, height=H, autosize=False,
    margin=dict(l=0, r=0, t=0, b=0, pad=0, autoexpand=False),
    paper_bgcolor="white", plot_bgcolor="rgba(0,0,0,0)",
    annotations=annotations, shapes=shapes,
    **layout,
)

fig.write_html("out.html")
